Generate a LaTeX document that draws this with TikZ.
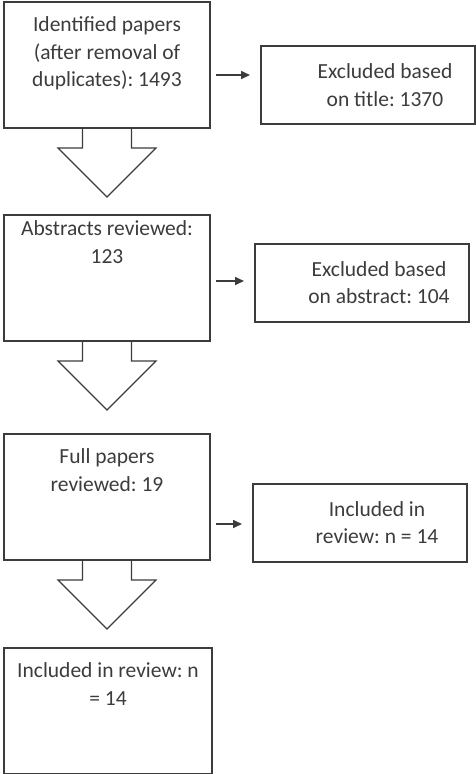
\documentclass[tikz,border=0pt]{standalone}
\usepackage{fontspec}
\setmainfont{Carlito}
\usetikzlibrary{arrows.meta,calc}
\definecolor{lineGray}{RGB}{60,60,60}
\frenchspacing
\newcommand{\boxtext}[2][15pt]{\parbox[c][126pt][t]{200pt}{\vspace*{#1}\centering #2}}
\newcommand{\sidetext}[1]{\hspace*{34pt}\parbox{178pt}{\centering #1}}

\begin{document}
\begin{tikzpicture}
[x=1pt,y=-1pt,%
  stageDecorate/.style={shape=rectangle,draw=lineGray,line width=2pt,inner sep=0pt,minimum width=206pt,anchor=north west,text=lineGray},%
  sideDecorate/.style={shape=rectangle,draw=lineGray,line width=2pt,inner sep=0pt,minimum width=214pt,minimum height=78pt,anchor=north west,text=lineGray},%
  lineDecorate/.style={draw=lineGray,line width=1.6pt,-{Triangle[length=9pt,width=8pt]}},%
  blockDecorate/.style={draw=lineGray,line width=1.2pt,line join=miter}]
\useasboundingbox (0,0) rectangle (475,774);
\fontsize{21.5}{27.5}\selectfont
%% stages on the left
\node (ident) at (3,1) [stageDecorate] {\boxtext{Identified papers\\(after removal of\\duplicates): 1493}};
\node (abstr) at (3,214) [stageDecorate] {\boxtext[6pt]{Abstracts reviewed:\\123}};
\node (full) at (3,433) [stageDecorate] {\boxtext{Full papers\\reviewed: 19}};
\node (incl) at (3,647) [stageDecorate,minimum width=208pt] {\boxtext{Included in review: n\\= 14}};
%% boxes on the right
\node (excltitle) at (260,45) [sideDecorate] {\sidetext{Excluded based\\on title: 1370}};
\node (exclabs) at (254,242.5) [sideDecorate] {\sidetext{Excluded based\\on abstract: 104}};
\node (inclrev) at (252,482.5) [sideDecorate] {\sidetext{Included in\\review: n = 14}};
%% block arrows between stages
\foreach \fromnode in {ident, abstr, full}
{
  \draw[blockDecorate] (\fromnode.south) ++(-24.5,0) -- ++(0,19) -- ++(-24.5,0) -- ++(49,49) -- ++(49,-49) -- ++(-24.5,0) -- ++(0,-19);
}
%% small arrows to the right
\foreach \startnode/\endnode/\dy in {ident/excltitle/-10, abstr/exclabs/-1.5, full/inclrev/1.5}
{
  \draw[lineDecorate] ($(\startnode.east |- \endnode.west)+(5,\dy)$) -- ($(\endnode.west)+(-10,\dy)$);
}
\end{tikzpicture}
\end{document}
